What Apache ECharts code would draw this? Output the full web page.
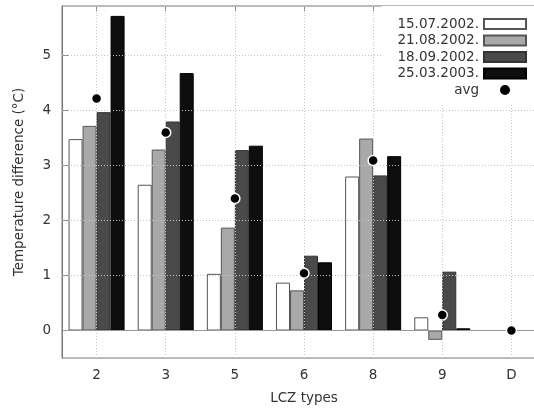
<!DOCTYPE html>
<html><head><meta charset="utf-8">
<script src="https://cdn.jsdelivr.net/npm/echarts@6/dist/echarts.min.js"></script>
<style>html,body{margin:0;padding:0;background:#fff}#c{width:534px;height:411px}</style>
</head><body><div id="c"></div>
<script>
const categories = ['2', '3', '5', '6', '8', '9', 'D'];
const seriesNames = ['15.07.2002.', '21.08.2002.', '18.09.2002.', '25.03.2003.'];
const s1507 = [3.48, 2.65, 1.03, 0.87, 2.80, 0.24, 0];
const s2108 = [3.72, 3.29, 1.87, 0.73, 3.49, -0.17, 0];
const s1809 = [3.97, 3.80, 3.28, 1.36, 2.82, 1.07, 0];
const s2503 = [5.72, 4.68, 3.36, 1.24, 3.17, 0.04, 0];
const avg = [4.22, 3.60, 2.40, 1.04, 3.09, 0.28, 0];
const yTicks = [0, 1, 2, 3, 4, 5];

const font = 'DejaVu Sans';
const txt = '#333';
const fs = 13.5;
const colors = ['#ffffff', '#a9a9a9', '#4a4a4a', '#0e0e0e'];
const borders = ['#555555', '#555555', '#333333', '#000000'];
const values = [s1507, s2108, s1809, s2503];

const gridDot = {color: '#c4c4c4', type: [1, 2], width: 1};

const barSeries = values.map((v, i) => ({
  name: seriesNames[i], type: 'bar', data: v, barGap: '0%', barCategoryGap: '19%',
  itemStyle: {color: colors[i], borderColor: borders[i], borderWidth: 1},
  z: 3, animation: false
}));

const chart = echarts.init(document.getElementById('c'), null, {renderer: 'canvas'});
chart.setOption({
  animation: false,
  backgroundColor: '#fff',
  textStyle: {fontFamily: font},
  grid: {left: 62, top: 6, width: 484, height: 352, outerBoundsMode: 'none', containLabel: false, show: true, borderColor: '#777', borderWidth: 1, backgroundColor: 'transparent'},
  legend: {
    data: seriesNames.map(n => ({name: n, icon: 'rect'})).concat([{name: 'avg', icon: 'circle', itemStyle: {borderWidth: 0, borderColor: '#000', color: '#000', opacity: 1}}]),
    orient: 'vertical', right: 0, top: 6, align: 'right',
    itemWidth: 42, itemHeight: 10, itemGap: 2.5,
    padding: [11, 7, 7, 16],
    backgroundColor: '#fff',
    textStyle: {fontFamily: font, fontSize: fs, color: txt},
    selectedMode: false, z: 10
  },
  xAxis: [{
    type: 'category', data: categories, position: 'bottom',
    name: 'LCZ types', nameLocation: 'middle', nameGap: 33,
    nameTextStyle: {fontFamily: font, fontSize: fs, color: txt},
    axisLine: {show: true, lineStyle: {color: '#777'}},
    axisTick: {show: true, inside: true, alignWithLabel: true, length: 5, lineStyle: {color: '#777'}},
    axisLabel: {fontFamily: font, fontSize: fs, color: txt, margin: 10},
    splitLine: {show: false}
  }, {
    type: 'category', data: categories, position: 'top',
    axisLine: {show: false},
    axisTick: {show: true, inside: true, alignWithLabel: true, length: 5, lineStyle: {color: '#777'}},
    axisLabel: {show: false}, splitLine: {show: false}
  }],
  yAxis: {
    type: 'value', min: -0.5, max: 5.9,
    name: 'Temperature difference (°C)', nameLocation: 'middle', nameGap: 36,
    nameTextStyle: {fontFamily: font, fontSize: fs, color: txt},
    axisLine: {show: true, lineStyle: {color: '#777'}},
    axisTick: {show: true, inside: true, length: 6, customValues: yTicks, lineStyle: {color: '#777'}},
    axisLabel: {fontFamily: font, fontSize: fs, color: txt, margin: 11, customValues: yTicks},
    splitLine: {show: false}
  },
  series: [{
    type: 'line', data: [], z: 1, silent: true, animation: false,
    markLine: {
      silent: true, symbol: 'none', animation: false,
      label: {show: false},
      lineStyle: gridDot,
      data: categories.map(c => ({xAxis: c})).concat(yTicks.filter(t => t !== 0).map(t => ({yAxis: t})))
    }
  }, {
    type: 'line', data: [], z: 2, silent: true, animation: false,
    markLine: {
      silent: true, symbol: 'none', animation: false,
      label: {show: false},
      lineStyle: {color: '#999', type: 'solid', width: 1},
      data: [{yAxis: 0}]
    }
  }].concat(barSeries).concat([{
    name: 'avg', type: 'scatter', data: avg, symbol: 'circle', symbolSize: 10,
    itemStyle: {color: '#000', borderColor: '#fff', borderWidth: 1.5, opacity: 1},
    z: 5, animation: false
  }])
});
</script></body></html>
